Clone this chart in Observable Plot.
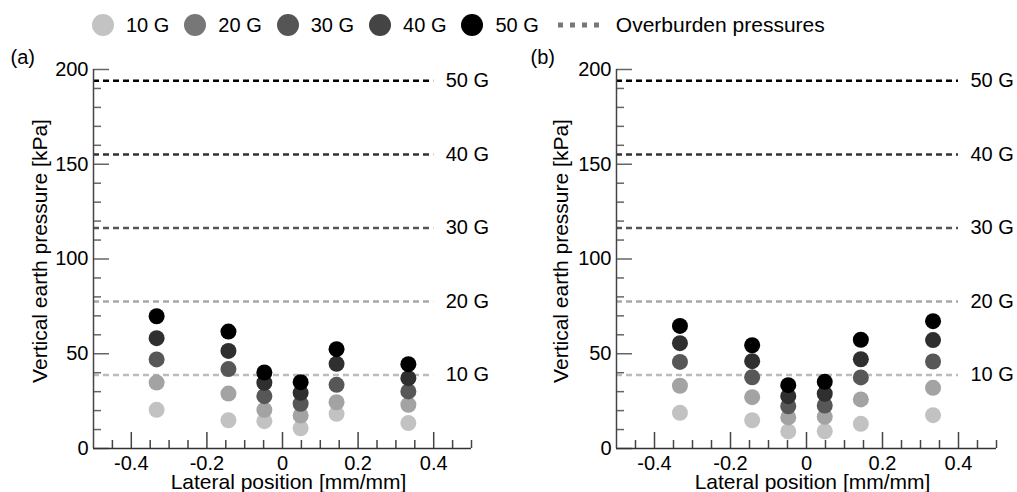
<!DOCTYPE html>
<html>
<head>
<meta charset="utf-8">
<script src="https://cdn.jsdelivr.net/npm/d3@7"></script>
<script src="https://cdn.jsdelivr.net/npm/@observablehq/plot@0.6"></script>
<style>
  body { margin: 0; background: #fff; font-family: Arial, "Liberation Sans", sans-serif; }
  #wrap { position: relative; width: 1017px; height: 492px; overflow: hidden; }
  #legend { position: absolute; left: 92px; top: 14px; height: 22px; display: flex; align-items: center; font-size: 20px; color: #000; white-space: nowrap; }
  #legend .sw { width: 22px; height: 22px; border-radius: 50%; margin-right: 12px; }
  #legend .lab { margin-right: 15px; line-height: 22px; }
  #legend svg { margin-left: 4px; margin-right: 15px; }
  #legend .title { font-size: 21px; }
  #pa, #pb { position: absolute; top: 45px; }
  #pa { left: 0; }
  #pb { left: 508px; }
  svg { overflow: visible; }
</style>
</head>
<body>
<div id="wrap">
  <div id="legend"></div>
  <div id="pa"></div>
  <div id="pb"></div>
</div>
<script>
// ---- data ----
const gLabels = ["10 G", "20 G", "30 G", "40 G", "50 G"];
const positions = [-0.333, -0.143, -0.048, 0.048, 0.143, 0.333];
const overburden = [38.8, 77.6, 116.4, 155.2, 194.0];

// panel (a)
const a10G = [20.4, 14.9, 14.4, 10.7, 18.3, 13.4];
const a20G = [34.8, 29.0, 20.4, 17.4, 24.4, 23.1];
const a30G = [47.0, 41.9, 27.6, 23.6, 33.6, 30.1];
const a40G = [58.2, 51.5, 34.7, 29.4, 44.7, 37.1];
const a50G = [69.8, 61.7, 40.1, 35.0, 52.4, 44.5];

// panel (b)
const b10G = [18.8, 14.9, 9.0, 9.1, 13.0, 17.6];
const b20G = [33.1, 27.1, 16.4, 16.7, 25.9, 32.0];
const b30G = [45.7, 37.6, 22.3, 22.7, 37.5, 45.9];
const b40G = [55.6, 46.1, 27.6, 28.9, 47.1, 57.2];
const b50G = [64.7, 54.5, 33.4, 35.2, 57.4, 67.2];

const yMajorTicks = [0, 50, 100, 150, 200];
const yMinorTicks = [10, 20, 30, 40, 60, 70, 80, 90, 110, 120, 130, 140, 160, 170, 180, 190];
const xMajorTicks = [-0.4, -0.2, 0, 0.2, 0.4];
const xMinorTicks = [-0.45, -0.35, -0.3, -0.25, -0.15, -0.1, -0.05, 0.05, 0.1, 0.15, 0.25, 0.3, 0.35, 0.45, 0.5];

const yLabel = "Vertical earth pressure [kPa]";
const xLabel = "Lateral position [mm/mm]";
const legendTitle = "Overburden pressures";

// ---- styles ----
const pointColors = ["#c2c2c2", "#a3a3a3", "#575757", "#2f2f2f", "#000000"];
const lineColors = ["#bcbcbc", "#a8a8a8", "#555555", "#333333", "#000000"];
const legendColors = ["#c3c3c3", "#777777", "#555555", "#444444", "#000000"];
const FONT = 'Arial, "Liberation Sans", sans-serif';

// ---- legend ----
const legend = document.getElementById("legend");
gLabels.forEach((g, i) => {
  const sw = document.createElement("span");
  sw.className = "sw";
  sw.style.background = legendColors[i];
  const lab = document.createElement("span");
  lab.className = "lab";
  lab.textContent = g;
  legend.appendChild(sw);
  legend.appendChild(lab);
});
legend.insertAdjacentHTML("beforeend",
  '<svg width="43" height="10"><line x1="0" y1="5" x2="43" y2="5" stroke="#777" stroke-width="5" stroke-dasharray="5,7"/></svg>');
const lt = document.createElement("span");
lt.className = "title";
lt.textContent = legendTitle;
legend.appendChild(lt);

// ---- panels ----
function makePanel(series, tag, cfg) {
  const marks = [];
  overburden.forEach((v, i) => {
    marks.push(Plot.ruleY([v], {x1: -0.5, x2: 0.4, stroke: lineColors[i], strokeWidth: 2.5, strokeDasharray: "6,4"}));
  });
  marks.push(Plot.text(overburden, {x: 0.4, y: d => d, text: (d, i) => gLabels[i], dx: 12, textAnchor: "start", fontSize: 20}));
  series.forEach((vals, gi) => {
    marks.push(Plot.dot(vals, {x: (d, i) => positions[i], y: d => d, r: 8, fill: pointColors[gi], stroke: "none"}));
  });
  // axes (inward ticks)
  marks.push(Plot.axisY(yMinorTicks, {anchor: "left", tickSize: -8, tickFormat: () => "", stroke: "#666", strokeWidth: 1.5, label: null}));
  marks.push(Plot.axisY(yMajorTicks, {anchor: "left", tickSize: -16, tickFormat: () => "", stroke: "#666", strokeWidth: 1.5, label: null}));
  marks.push(Plot.axisY(yMajorTicks, {anchor: "left", tickSize: 0, tickPadding: 5, fontSize: 20, label: null}));
  marks.push(Plot.axisX(xMinorTicks, {anchor: "bottom", tickSize: -8, tickFormat: () => "", stroke: "#444", strokeWidth: 1.5, label: null}));
  marks.push(Plot.axisX(xMajorTicks, {anchor: "bottom", tickSize: -16, tickFormat: () => "", stroke: "#444", strokeWidth: 1.5, label: null}));
  marks.push(Plot.axisX(xMajorTicks, {anchor: "bottom", tickSize: 0, tickPadding: 7, fontSize: 20, label: null, tickFormat: d => String(d)}));
  marks.push(Plot.ruleX([-0.5], {stroke: "#444", strokeWidth: 1.5}));
  marks.push(Plot.ruleY([0], {stroke: "#333", strokeWidth: 1.5}));
  // axis titles and panel tag
  marks.push(Plot.text([yLabel], {text: d => d, frameAnchor: "left", textAnchor: "middle", lineAnchor: "middle", rotate: -90, dx: cfg.yLabelDx, dy: -8, fontSize: 21}));
  marks.push(Plot.text([xLabel], {text: d => d, frameAnchor: "bottom", textAnchor: "middle", lineAnchor: "middle", dx: 6, dy: 34, fontSize: 21}));
  marks.push(Plot.text([tag], {text: d => d, frameAnchor: "top-left", textAnchor: "start", lineAnchor: "middle", dx: cfg.tagDx, dy: -12, fontSize: 20}));

  return Plot.plot({
    width: cfg.width,
    height: 447,
    marginTop: 24,
    marginBottom: 44,
    marginLeft: cfg.marginLeft,
    marginRight: cfg.marginRight,
    style: {fontFamily: FONT, fontSize: "20px", color: "#000", background: "transparent", overflow: "visible"},
    x: {domain: [-0.5, 0.5], axis: null},
    y: {domain: [0, 200], axis: null},
    marks
  });
}

document.getElementById("pa").appendChild(
  makePanel([a10G, a20G, a30G, a40G, a50G], "(a)", {width: 508, marginLeft: 93, marginRight: 37, yLabelDx: -53, tagDx: -83})
);
document.getElementById("pb").appendChild(
  makePanel([b10G, b20G, b30G, b40G, b50G], "(b)", {width: 509, marginLeft: 108, marginRight: 21, yLabelDx: -55, tagDx: -86})
);
</script>
</body>
</html>
